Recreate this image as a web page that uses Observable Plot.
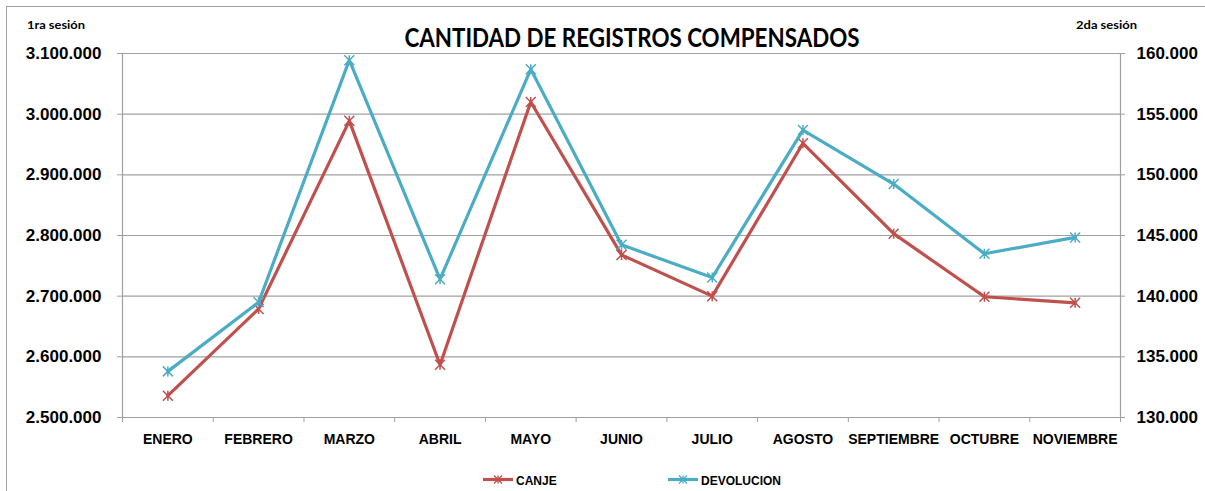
<!DOCTYPE html>
<html>
<head>
<meta charset="utf-8">
<script src="https://cdn.jsdelivr.net/npm/d3@7"></script>
<script src="https://cdn.jsdelivr.net/npm/@observablehq/plot@0.6"></script>
<style>
  html, body { margin: 0; padding: 0; background: #fff; overflow: hidden; }
  #wrap { position: relative; width: 1205px; height: 491px; overflow: hidden; font-family: "Liberation Sans", Arial, sans-serif; }
  #border { position: absolute; left: 6px; top: 6px; width: 1400px; height: 700px; border: 1px solid #a0a0a0; box-sizing: border-box; }
  #chart { position: absolute; left: 0; top: 0; }
  #overlay { position: absolute; left: 0; top: 0; pointer-events: none; }
</style>
</head>
<body>
<div id="wrap">
  <div id="border"></div>
  <div id="chart"></div>
  <svg id="overlay" width="1205" height="491"></svg>
</div>
<script>
// ---- Data ----
const months = ["ENERO", "FEBRERO", "MARZO", "ABRIL", "MAYO", "JUNIO", "JULIO", "AGOSTO", "SEPTIEMBRE", "OCTUBRE", "NOVIEMBRE"];
const canje = [2536000, 2679000, 2989000, 2587000, 3020000, 2768000, 2700000, 2952000, 2803000, 2699000, 2689000];
const devolucion = [133800, 139500, 159450, 141400, 158700, 144230, 141540, 153690, 149240, 143500, 144840];
const leftTicks = [2500000, 2600000, 2700000, 2800000, 2900000, 3000000, 3100000];
const rightTicks = [130000, 135000, 140000, 145000, 150000, 155000, 160000];
const title = "CANTIDAD DE REGISTROS COMPENSADOS";
const leftAxisTitle = "1ra sesión";
const rightAxisTitle = "2da sesión";
const seriesNames = ["CANJE", "DEVOLUCION"];
const seriesColors = ["#C0504D", "#4BACC6"];

// ---- Helpers ----
const locale = d3.formatLocale({decimal: ",", thousands: ".", grouping: [3], currency: ["", ""]});
const fmt = locale.format(",");
// map secondary (right) axis values onto primary (left) axis domain
const toLeft = v => leftTicks[0] + (v - rightTicks[0]) * (leftTicks[leftTicks.length - 1] - leftTicks[0]) / (rightTicks[rightTicks.length - 1] - rightTicks[0]);
const fromLeft = v => rightTicks[0] + (v - leftTicks[0]) * (rightTicks[rightTicks.length - 1] - rightTicks[0]) / (leftTicks[leftTicks.length - 1] - leftTicks[0]);

const star = {
  draw(ctx, size) {
    const r = Math.sqrt(size / Math.PI);
    ctx.moveTo(-r, -r); ctx.lineTo(r, r);
    ctx.moveTo(-r, r); ctx.lineTo(r, -r);
    ctx.moveTo(0, -r); ctx.lineTo(0, r);
  }
};

const table = months.map((m, i) => ({pos: i + 0.5, month: m, canje: canje[i], dev: toLeft(devolucion[i])}));
const bounds = d3.range(0, months.length + 1);
const centers = months.map((m, i) => i + 0.5);

const gray = "#a0a0a0";

const chart = Plot.plot({
  width: 1205,
  height: 491,
  marginLeft: 122,
  marginRight: 85,
  marginTop: 53,
  marginBottom: 74,
  style: {fontFamily: "'Liberation Sans', Arial, sans-serif", background: "transparent", overflow: "visible"},
  x: {type: "linear", domain: [0, months.length], axis: null},
  y: {domain: [leftTicks[0], leftTicks[leftTicks.length - 1]], axis: null},
  marks: [
    Plot.ruleY(leftTicks, {stroke: gray, strokeWidth: 1.2}),
    Plot.ruleX([0, months.length], {stroke: gray, strokeWidth: 1.2}),
    Plot.axisY({ticks: leftTicks, tickFormat: fmt, tickSize: 5, tickPadding: 16, stroke: gray, fill: "#000", fontSize: 17, fontWeight: "bold", label: null}),
    Plot.axisY({anchor: "right", ticks: rightTicks.map(toLeft), tickFormat: d => fmt(Math.round(fromLeft(d))), tickSize: 4, tickPadding: 12, stroke: gray, fill: "#000", fontSize: 17, fontWeight: "bold", label: null}),
    Plot.axisX({ticks: bounds, tickFormat: () => "", tickSize: 5, stroke: gray, label: null}),
    Plot.axisX({ticks: centers, tickFormat: d => months[Math.floor(d)], tickSize: 0, tickPadding: 17, fill: "#000", fontSize: 14, fontWeight: "bold", label: null}),
    Plot.line(table, {x: "pos", y: "canje", stroke: seriesColors[0], strokeWidth: 3.2}),
    Plot.dot(table, {x: "pos", y: "canje", symbol: star, r: 5, stroke: seriesColors[0], strokeWidth: 1.5, fill: "none"}),
    Plot.line(table, {x: "pos", y: "dev", stroke: seriesColors[1], strokeWidth: 3.2}),
    Plot.dot(table, {x: "pos", y: "dev", symbol: star, r: 5, stroke: seriesColors[1], strokeWidth: 1.5, fill: "none"})
  ]
});
document.getElementById("chart").appendChild(chart);

// ---- Titles and legend ----
const ov = d3.select("#overlay");
ov.append("text").attr("x", 632).attr("y", 47).attr("text-anchor", "middle")
  .attr("font-family", "Lato, 'Liberation Sans', Arial, sans-serif").attr("font-weight", "bold").attr("font-size", 26)
  .attr("textLength", 455).attr("lengthAdjust", "spacingAndGlyphs").attr("fill", "#000").text(title);
ov.append("text").attr("x", 27).attr("y", 29)
  .attr("font-family", "Lato, 'Liberation Sans', Arial, sans-serif").attr("font-weight", "bold").attr("font-size", 12)
  .attr("textLength", 58).attr("lengthAdjust", "spacingAndGlyphs").attr("fill", "#000").text(leftAxisTitle);
ov.append("text").attr("x", 1076).attr("y", 29)
  .attr("font-family", "Lato, 'Liberation Sans', Arial, sans-serif").attr("font-weight", "bold").attr("font-size", 12)
  .attr("textLength", 61).attr("lengthAdjust", "spacingAndGlyphs").attr("fill", "#000").text(rightAxisTitle);

const legendX = [483, 668];
const sym = d3.symbol(star, 4 * 4 * Math.PI)();
seriesNames.forEach((name, k) => {
  const g = ov.append("g").attr("transform", `translate(${legendX[k]},479.5)`);
  g.append("line").attr("x1", 0).attr("x2", 30).attr("y1", 0).attr("y2", 0)
    .attr("stroke", seriesColors[k]).attr("stroke-width", 3.2);
  g.append("path").attr("d", sym).attr("transform", "translate(15,0)")
    .attr("stroke", seriesColors[k]).attr("stroke-width", 1.3).attr("fill", "none");
  g.append("text").attr("x", 33).attr("y", 5)
    .attr("font-family", "'Liberation Sans', Arial, sans-serif").attr("font-weight", "bold").attr("font-size", 12)
    .attr("fill", "#000").text(name);
});
</script>
</body>
</html>
